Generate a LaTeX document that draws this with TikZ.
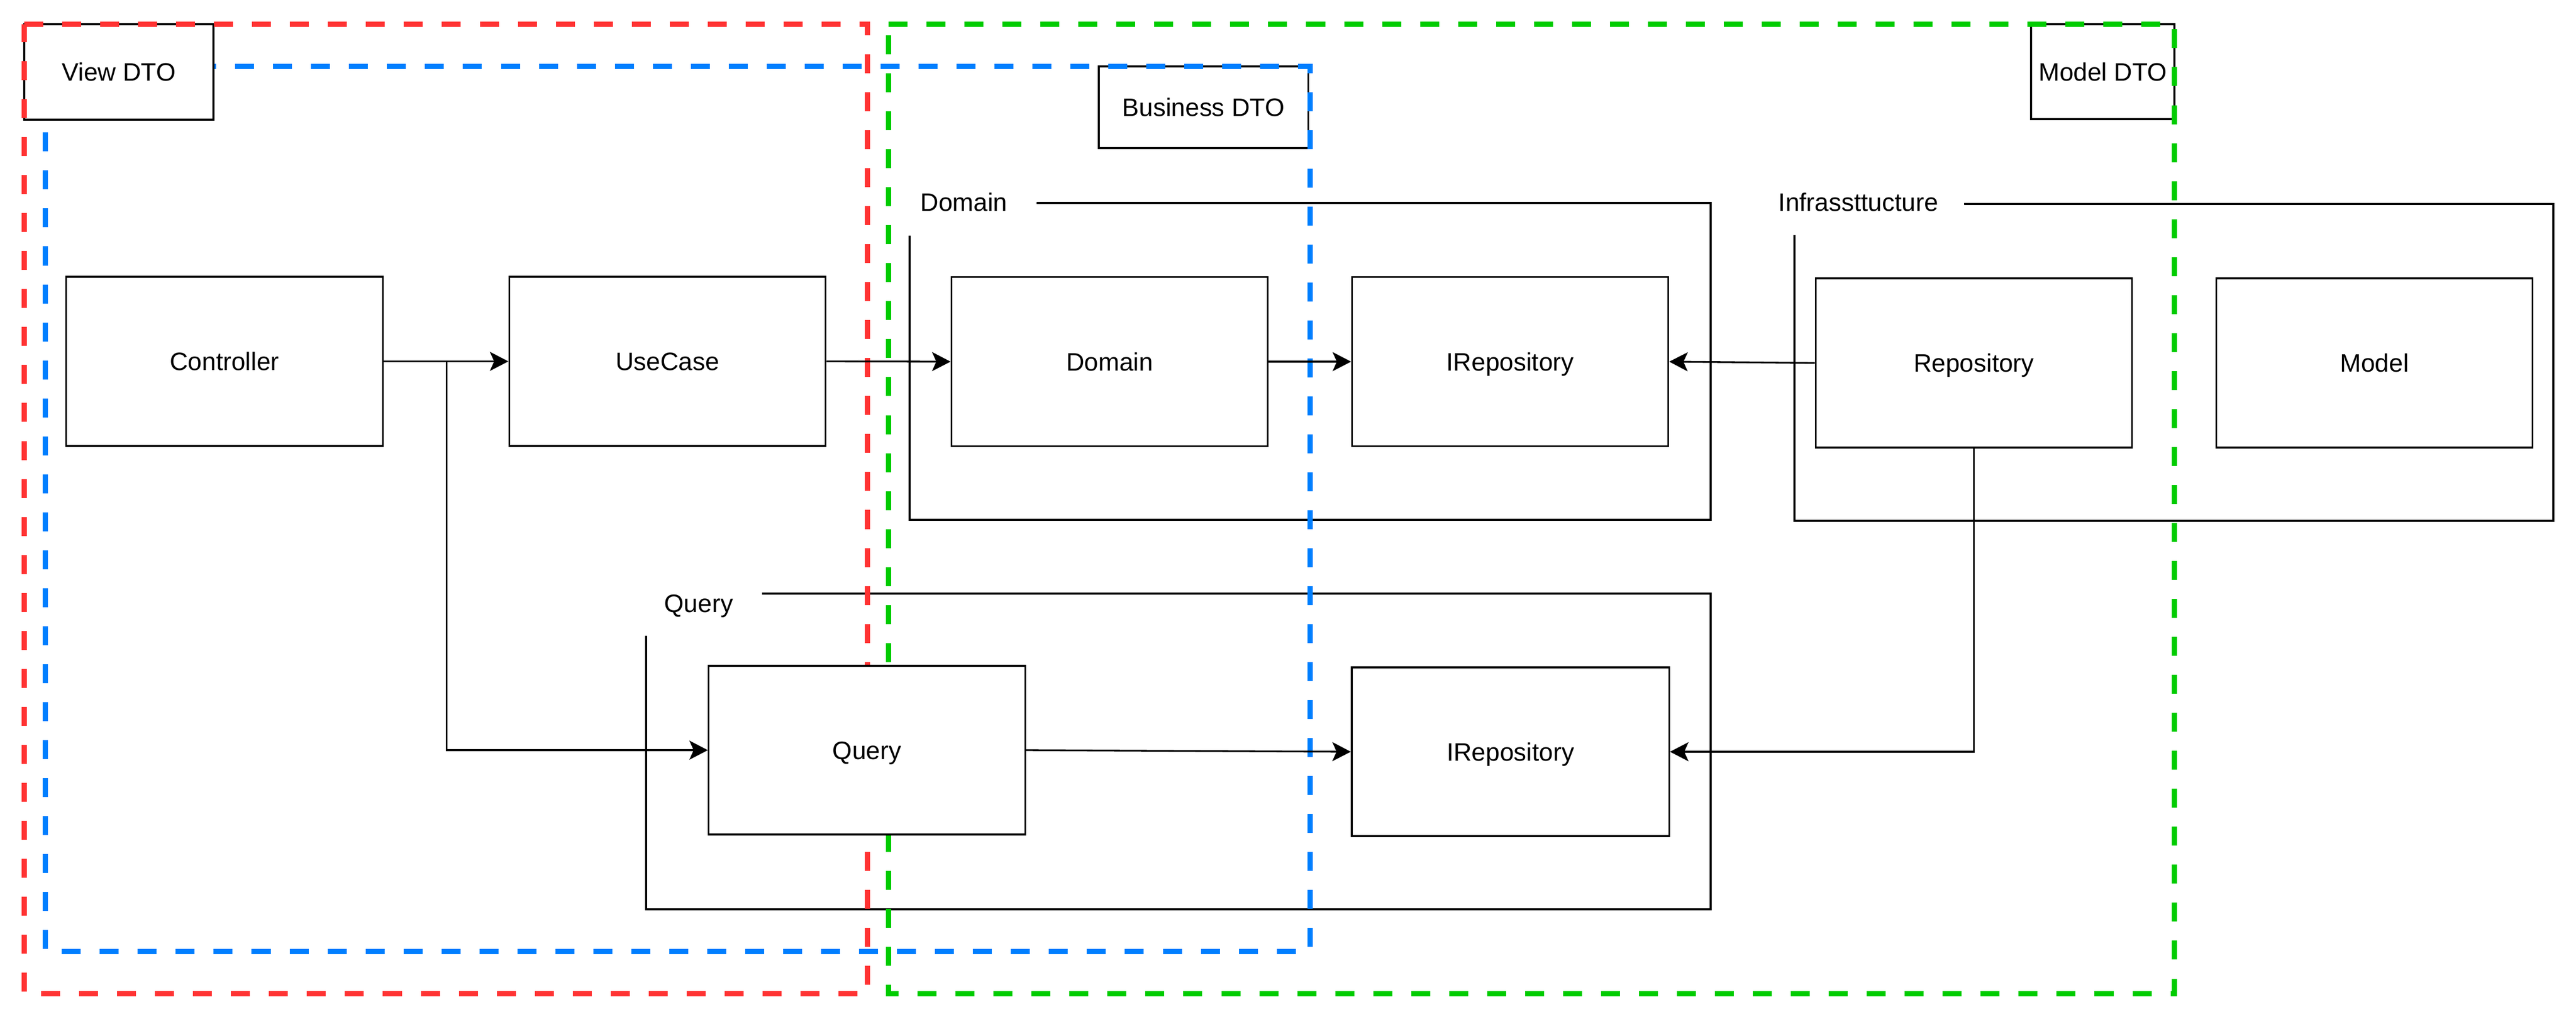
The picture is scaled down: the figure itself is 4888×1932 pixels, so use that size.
\documentclass[tikz,border=0pt]{standalone}
\usepackage{fontspec}
\setmainfont{Liberation Sans}
\usetikzlibrary{arrows.meta}
\definecolor{dred}{HTML}{FF3333}
\definecolor{dgreen}{HTML}{00CC00}
\definecolor{dblue}{HTML}{007FFF}
\tikzset{
  txt/.style={font=\fontsize{13.6pt}{16pt}\selectfont, text height=9.7pt, text depth=0pt},
  box/.style={txt, draw=black, fill=white, line width=0.033cm, inner sep=0pt,
              minimum width=6cm, minimum height=3.21cm},
  dtobox/.style={txt, draw=black, fill=white, line width=0.033cm, inner sep=0pt},
  cont/.style={draw=black, line width=0.033cm},
  lbl/.style={font=\fontsize{13.6pt}{16pt}\selectfont, inner sep=0pt},
  zone/.style={line width=0.095cm, dash pattern=on 0.36cm off 0.36cm},
  conn/.style={draw=black, line width=0.033cm,
               -{Stealth[length=0.35cm, width=0.36cm, inset=0.08cm]}},
}
\begin{document}
\begin{tikzpicture}[x=0.01cm, y=-0.01cm]
\useasboundingbox (0,0) rectangle (4888,1932);
\fill[white] (0,0) rectangle (4888,1932);

% containers
\node[lbl, anchor=base west] (domlbl) at (1746,400) {Domain};
\draw[cont] (1967,385) -| (3246,986) -| (1726,447);
\node[lbl, anchor=base west] (inflbl) at (3374,400) {Infrassttucture};
\draw[cont] (3727,387) -| (4845,988) -| (3405,446);
\node[lbl, anchor=base west] (qlbl) at (1260,1161) {Query};
\draw[cont] (1446,1126) -| (3246,1725) -| (1226,1206);

% business DTO and blue zone
\node[dtobox, minimum width=3.97cm, minimum height=1.55cm] (bdto) at (2283.5,203.5) {Business DTO};
\draw[zone, dblue] (86,126) -- (2486,126) -- (2486,1805) -- (86,1805) -- cycle;

% view DTO and red zone
\node[dtobox, minimum width=3.59cm, minimum height=1.81cm] (vdto) at (225.5,136.5) {View DTO};
\draw[zone, dred] (46,46) -- (1646,46) -- (1646,1885) -- (46,1885) -- cycle;

% model DTO and green zone
\node[dtobox, minimum width=2.72cm, minimum height=1.80cm] (mdto) at (3990,136) {Model DTO};
\draw[zone, dgreen] (1686,46) -- (4126,46) -- (4126,1885) -- (1686,1885) -- cycle;

% main boxes
\node[box] (ctrl) at (426,685.5) {Controller};
\node[box] (usecase) at (1266.5,685.5) {UseCase};
\node[box] (domain) at (2105.5,686) {Domain};
\node[box] (irepo1) at (2865.5,686) {IRepository};
\node[box] (repo) at (3745.5,688.5) {Repository};
\node[box] (model) at (4505.5,688.5) {Model};
\node[box, minimum height=3.20cm] (query) at (1645,1423) {Query};
\node[box, minimum width=6.02cm, minimum height=3.20cm] (irepo2) at (2866,1426) {IRepository};

% connectors
\draw[conn] (ctrl.east) -- (usecase.west);
\draw[conn] (ctrl.east) -- ++(120,0) |- (query.west);
\draw[conn] (usecase.east) -- (domain.west);
\draw[conn] (domain.east) -- (irepo1.west);
\draw[conn] (repo.west) -- (irepo1.east);
\draw[conn] (query.east) -- (irepo2.west);
\draw[conn] (repo.south) |- (irepo2.east);
\end{tikzpicture}
\end{document}
